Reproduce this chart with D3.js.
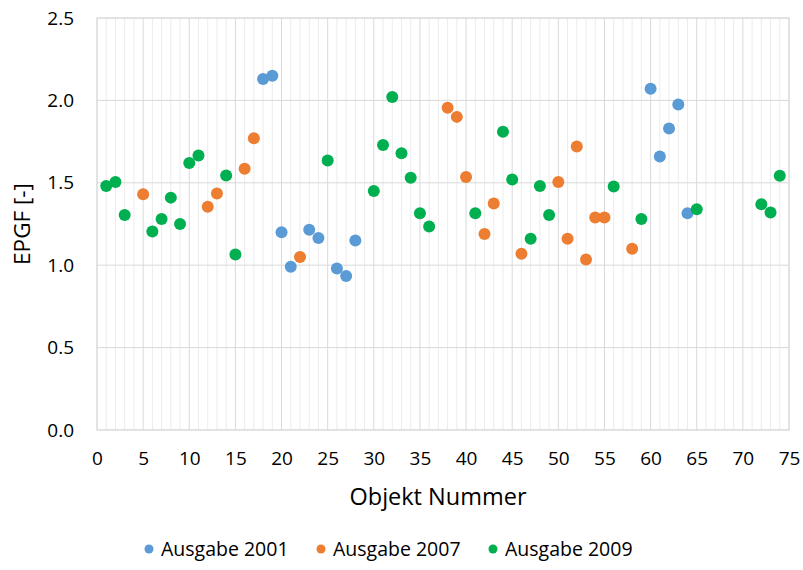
<!DOCTYPE html>
<html lang="de">
<head>
  <meta charset="UTF-8">
  <title>EPGF - Objekt Nummer</title>
  <script src="https://d3js.org/d3.v7.min.js"></script>
  <style>
    body { margin: 0; background: #fff; }
    text { font-family: "Open Sans", "Noto Sans", sans-serif; fill: #000; }
  </style>
</head>
<body>
<div id="chart"></div>
<script>
  // Ausgabe 2001
  const x2001 = [18, 19, 20, 21, 23, 24, 26, 27, 28, 60, 61, 62, 63, 64];
  const y2001 = [2.13, 2.15, 1.20, 0.99, 1.215, 1.165, 0.98, 0.935, 1.15, 2.07, 1.66, 1.83, 1.975, 1.315];
  // Ausgabe 2007
  const x2007 = [5, 12, 13, 16, 17, 22, 38, 39, 40, 42, 43, 46, 50, 51, 52, 53, 54, 55, 58];
  const y2007 = [1.43, 1.355, 1.435, 1.585, 1.77, 1.05, 1.955, 1.90, 1.535, 1.19, 1.375, 1.07, 1.505, 1.16, 1.72, 1.035, 1.29, 1.29, 1.10];
  // Ausgabe 2009
  const x2009 = [1, 2, 3, 6, 7, 8, 9, 10, 11, 14, 15, 25, 30, 31, 32, 33, 34, 35, 36, 41, 44, 45, 47, 48, 49, 56, 59, 65, 72, 73, 74];
  const y2009 = [1.48, 1.505, 1.305, 1.205, 1.28, 1.41, 1.25, 1.62, 1.665, 1.545, 1.065, 1.635, 1.45, 1.73, 2.02, 1.68, 1.53, 1.315, 1.235, 1.315, 1.81, 1.52, 1.16, 1.48, 1.305, 1.477, 1.28, 1.34, 1.37, 1.32, 1.543];

  const seriesNames = ["Ausgabe 2001", "Ausgabe 2007", "Ausgabe 2009"];
  const colors = ["#5B9BD5", "#ED7D31", "#00B050"];
  const xTicks = d3.range(0, 76, 5);
  const yTicks = [0, 0.5, 1.0, 1.5, 2.0, 2.5];

  const series = [
    { name: seriesNames[0], color: colors[0], pts: x2001.map((x, i) => [x, y2001[i]]) },
    { name: seriesNames[1], color: colors[1], pts: x2007.map((x, i) => [x, y2007[i]]) },
    { name: seriesNames[2], color: colors[2], pts: x2009.map((x, i) => [x, y2009[i]]) }
  ];

  const W = 803, H = 570;
  const margin = { top: 18, right: 14, bottom: 140, left: 97 };
  const width = W - margin.left - margin.right;
  const height = H - margin.top - margin.bottom;

  const svg = d3.select("#chart").append("svg")
    .attr("width", W).attr("height", H);
  const g = svg.append("g")
    .attr("transform", "translate(" + margin.left + "," + margin.top + ")");

  const x = d3.scaleLinear().domain([0, 75]).range([0, width]);
  const y = d3.scaleLinear().domain([0, 2.5]).range([height, 0]);

  // minor vertical gridlines
  g.append("g").selectAll("line")
    .data(d3.range(1, 75).filter(d => d % 5 !== 0))
    .enter().append("line")
    .attr("x1", d => x(d)).attr("x2", d => x(d))
    .attr("y1", 0).attr("y2", height)
    .attr("stroke", "#ececec").attr("stroke-width", 1);

  // major vertical gridlines
  g.append("g").selectAll("line")
    .data(xTicks)
    .enter().append("line")
    .attr("x1", d => x(d)).attr("x2", d => x(d))
    .attr("y1", 0).attr("y2", height)
    .attr("stroke", "#d9d9d9").attr("stroke-width", 1);

  // horizontal gridlines
  g.append("g").selectAll("line")
    .data(yTicks)
    .enter().append("line")
    .attr("x1", 0).attr("x2", width)
    .attr("y1", d => y(d)).attr("y2", d => y(d))
    .attr("stroke", "#d9d9d9").attr("stroke-width", 1);

  // border
  g.append("rect")
    .attr("width", width).attr("height", height)
    .attr("fill", "none").attr("stroke", "#d9d9d9");

  // axes (labels only)
  const xAxis = g.append("g")
    .attr("transform", "translate(0," + height + ")")
    .call(d3.axisBottom(x).tickValues(xTicks).tickSize(0).tickPadding(22));
  const yAxis = g.append("g")
    .call(d3.axisLeft(y).tickValues(yTicks).tickFormat(d3.format(".1f")).tickSize(0).tickPadding(23));
  [xAxis, yAxis].forEach(a => {
    a.select(".domain").remove();
    a.selectAll(".tick text").attr("fill", "#000")
      .style("font-family", "'Open Sans', sans-serif").style("font-size", "19px");
  });

  // points
  series.forEach(s => {
    g.append("g").selectAll("circle")
      .data(s.pts)
      .enter().append("circle")
      .attr("cx", d => x(d[0]))
      .attr("cy", d => y(d[1]))
      .attr("r", 6)
      .attr("fill", s.color);
  });

  // axis titles
  svg.append("text")
    .attr("x", margin.left + width / 2 - 5)
    .attr("y", 505)
    .attr("text-anchor", "middle")
    .style("font-size", "23.5px")
    .text("Objekt Nummer");

  svg.append("text")
    .attr("transform", "rotate(-90)")
    .attr("x", -(margin.top + height / 2))
    .attr("y", 30)
    .attr("text-anchor", "middle")
    .style("font-size", "22.5px")
    .text("EPGF [-]");

  // legend
  const legendX = [149, 321, 493];
  const legend = svg.append("g");
  series.forEach((s, i) => {
    legend.append("circle")
      .attr("cx", legendX[i]).attr("cy", 549).attr("r", 4.5)
      .attr("fill", s.color);
    legend.append("text")
      .attr("x", legendX[i] + 12).attr("y", 556)
      .style("font-size", "19.5px")
      .text(s.name);
  });
</script>
</body>
</html>
